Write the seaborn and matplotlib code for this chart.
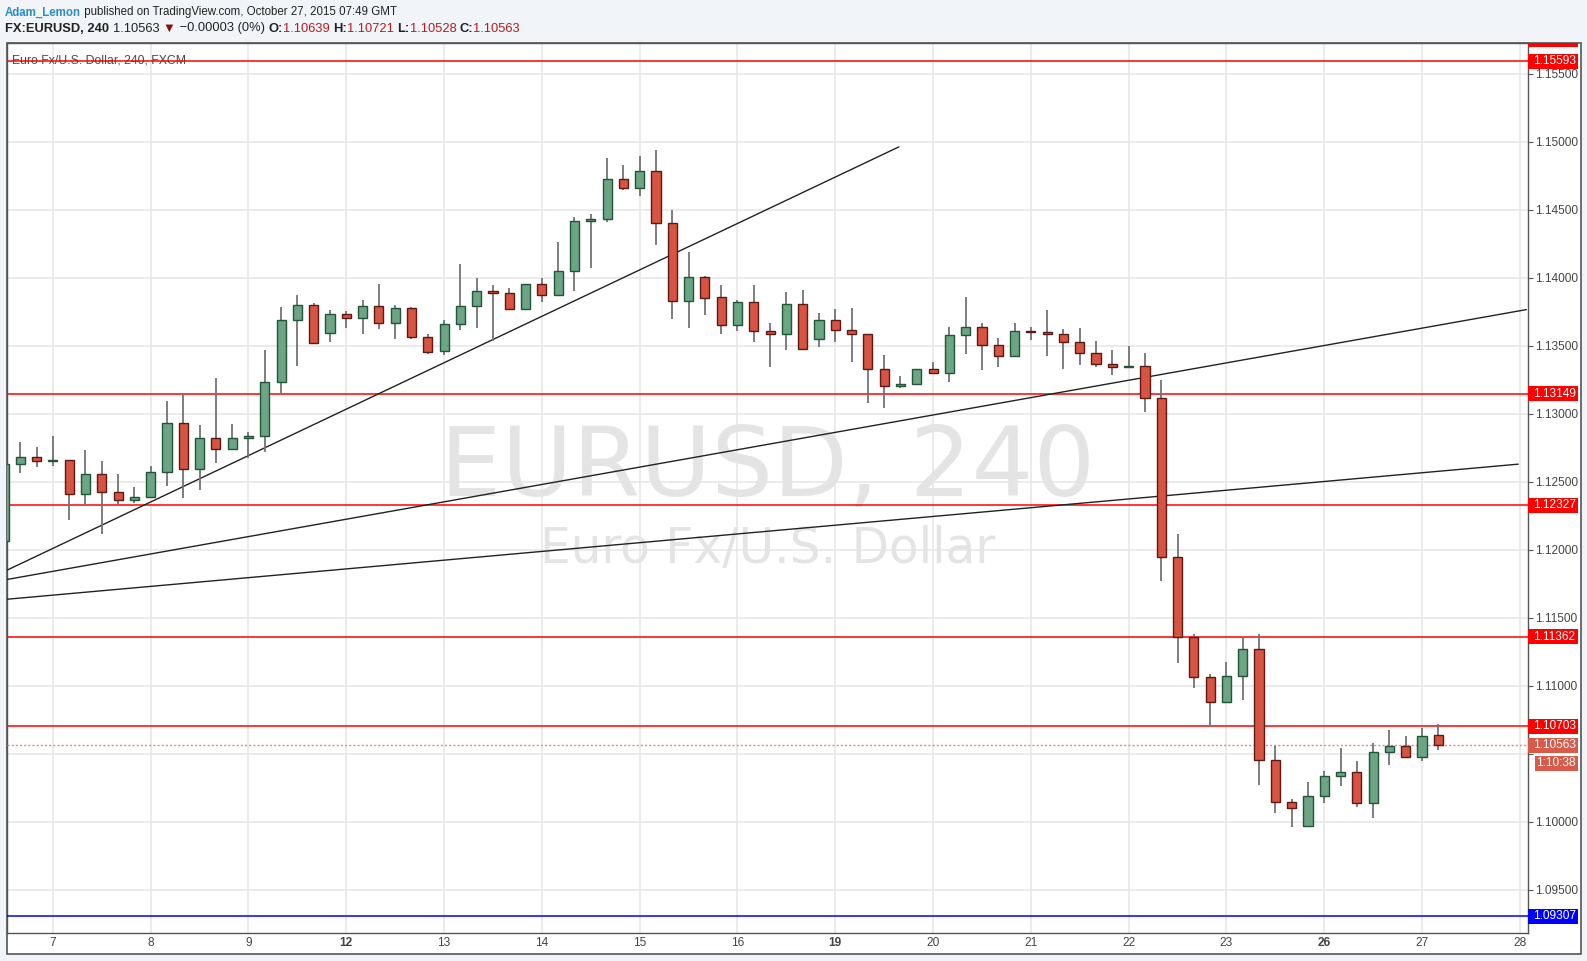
import matplotlib
matplotlib.use("Agg")
import numpy as np
import pandas as pd
import matplotlib.pyplot as plt
import matplotlib.transforms as mtransforms
from matplotlib.patches import Rectangle
import seaborn as sns

# ==========================================
# 1. Data
# ==========================================
opens = [1.12062, 1.12628, 1.12679, 1.12650, 1.12657, 1.12414, 1.12554, 1.12429, 1.12370, 1.12385,
         1.12569, 1.12929, 1.12598, 1.12819, 1.12745, 1.12819, 1.12834, 1.13231, 1.13687, 1.13797,
         1.13591, 1.13731, 1.13701, 1.13790, 1.13664, 1.13775, 1.13562, 1.13461, 1.13657, 1.13790,
         1.13900, 1.13885, 1.13767, 1.13951, 1.13870, 1.14047, 1.14415, 1.14429, 1.14723, 1.14657,
         1.14782, 1.14400, 1.13826, 1.14003, 1.13856, 1.13650, 1.13819, 1.13606, 1.13584, 1.13804,
         1.13547, 1.13687, 1.13613, 1.13584, 1.13326, 1.13201, 1.13216, 1.13326, 1.13297, 1.13576,
         1.13635, 1.13503, 1.13426, 1.13606, 1.13598, 1.13584, 1.13525, 1.13444, 1.13363, 1.13341,
         1.13348, 1.13113, 1.11951, 1.11356, 1.11062, 1.10885, 1.11076, 1.11275, 1.10459, 1.10150,
         1.09973, 1.10194, 1.10341, 1.10370, 1.10142, 1.10517, 1.10562, 1.10481, 1.10639]
highs = [1.12659, 1.12792, 1.12755, 1.12836, 1.12657, 1.12733, 1.12652, 1.12554, 1.12461, 1.12613,
         1.13093, 1.13150, 1.12917, 1.13262, 1.12924, 1.12863, 1.13468, 1.13782, 1.13873, 1.13814,
         1.13762, 1.13755, 1.13836, 1.13953, 1.13799, 1.13784, 1.13586, 1.13689, 1.14101, 1.13998,
         1.13946, 1.13924, 1.13951, 1.13998, 1.14262, 1.14444, 1.14466, 1.14880, 1.14828, 1.14895,
         1.14939, 1.14498, 1.14187, 1.14012, 1.13946, 1.13834, 1.13946, 1.13664, 1.13892, 1.13907,
         1.13738, 1.13767, 1.13775, 1.13584, 1.13429, 1.13275, 1.13326, 1.13378, 1.13635, 1.13856,
         1.13664, 1.13554, 1.13667, 1.13635, 1.13762, 1.13620, 1.13628, 1.13532, 1.13466, 1.13495,
         1.13444, 1.13245, 1.12115, 1.11378, 1.11084, 1.11179, 1.11360, 1.11378, 1.10562, 1.10172,
         1.10297, 1.10378, 1.10547, 1.10451, 1.10584, 1.10679, 1.10635, 1.10687, 1.10721]
lows = [1.12034, 1.12566, 1.12610, 1.12617, 1.12220, 1.12319, 1.12118, 1.12338, 1.12345, 1.12385,
        1.12470, 1.12382, 1.12441, 1.12635, 1.12745, 1.12672, 1.12723, 1.13150, 1.13353, 1.13522,
        1.13529, 1.13632, 1.13588, 1.13625, 1.13551, 1.13551, 1.13439, 1.13435, 1.13617, 1.13632,
        1.13537, 1.13767, 1.13767, 1.13823, 1.13870, 1.13904, 1.14073, 1.14412, 1.14645, 1.14603,
        1.14242, 1.13698, 1.13632, 1.13728, 1.13588, 1.13610, 1.13529, 1.13345, 1.13470, 1.13466,
        1.13492, 1.13529, 1.13382, 1.13081, 1.13044, 1.13187, 1.13216, 1.13290, 1.13231, 1.13437,
        1.13319, 1.13345, 1.13419, 1.13544, 1.13426, 1.13331, 1.13360, 1.13345, 1.13287, 1.13341,
        1.13010, 1.11772, 1.11169, 1.10985, 1.10701, 1.10885, 1.10897, 1.10272, 1.10066, 1.09963,
        1.09973, 1.10140, 1.10267, 1.10110, 1.10029, 1.10419, 1.10481, 1.10448, 1.10528]
closes = [1.12628, 1.12679, 1.12650, 1.12657, 1.12414, 1.12554, 1.12429, 1.12370, 1.12385, 1.12569,
          1.12929, 1.12598, 1.12819, 1.12745, 1.12819, 1.12834, 1.13231, 1.13687, 1.13797, 1.13522,
          1.13731, 1.13701, 1.13790, 1.13664, 1.13775, 1.13562, 1.13457, 1.13657, 1.13790, 1.13900,
          1.13885, 1.13767, 1.13951, 1.13870, 1.14047, 1.14415, 1.14429, 1.14723, 1.14657, 1.14782,
          1.14400, 1.13826, 1.14003, 1.13853, 1.13650, 1.13819, 1.13606, 1.13584, 1.13804, 1.13473,
          1.13687, 1.13613, 1.13584, 1.13326, 1.13201, 1.13216, 1.13326, 1.13297, 1.13576, 1.13635,
          1.13503, 1.13426, 1.13606, 1.13598, 1.13584, 1.13525, 1.13444, 1.13363, 1.13341, 1.13348,
          1.13113, 1.11951, 1.11356, 1.11062, 1.10885, 1.11076, 1.11275, 1.10459, 1.10150, 1.10106,
          1.10194, 1.10341, 1.10370, 1.10142, 1.10517, 1.10562, 1.10481, 1.10635, 1.10563]

day_labels = ['7', '8', '9', '12', '13', '14', '15', '16', '19', '20', '21', '22', '23', '26', '27', '28']
week_starts = ['12', '19', '26']
first_day_bar = 3          # bar index of the first labelled day (Oct 7 00:00)
bars_per_day = 6

price_ticks = [1.095, 1.100, 1.105, 1.110, 1.115, 1.120, 1.125, 1.130, 1.135, 1.140, 1.145, 1.150, 1.155]

red_levels = [1.15593, 1.13149, 1.12327, 1.11362, 1.10703]
blue_level = 1.09307
hidden_level = 1.15753     # line above the view, only its label peeks out
last_price = 1.10563
countdown = "1:10:38"

# trendlines: (start bar, start price, end bar, end price)
trend_x0 = [0.17, 0.17, 0.17]
trend_y0 = [1.11850, 1.11782, 1.11637]
trend_x1 = [54.9, 93.4, 92.9]
trend_y1 = [1.14962, 1.13766, 1.12630]

# ==========================================
# 2. Style
# ==========================================
UP_FILL, UP_EDGE = '#6ba583', '#225437'
DN_FILL, DN_EDGE = '#d75442', '#5b1a13'
WICK = '#737375'
GRID = '#e6e6e6'
FRAME = '#555555'
BG = '#f1f4f8'
AXFONT = ['Liberation Sans', 'DejaVu Sans']

sns.set_theme(style='white')
plt.rcParams['font.family'] = AXFONT

W, H = 1587, 961
fig = plt.figure(figsize=(W / 100, H / 100), dpi=100)
fig.patch.set_facecolor(BG)

def fig_box(x0, y0, x1, y1):
    # pixel box measured from the top-left -> figure fractions
    return [x0 / W, 1 - y1 / H, (x1 - x0) / W, (y1 - y0) / H]

# outer white chart frame
fl, ft, fr, fb = 6.7, 42.7, 1580.7, 953.5
fig.patches.append(Rectangle((fl / W, 1 - fb / H), (fr - fl) / W, (fb - ft) / H,
                             transform=fig.transFigure, facecolor='white',
                             edgecolor=FRAME, linewidth=1.2, zorder=-1))

pr = 1528
pb = 933.3
ax = fig.add_axes(fig_box(fl, ft, pr, pb))
ax.set_facecolor('white')

df = pd.DataFrame({'open': opens, 'high': highs, 'low': lows, 'close': closes})
df['bar'] = np.arange(len(df))
df['up'] = df['close'] >= df['open']
df['bottom'] = df[['open', 'close']].min(axis=1)
df['body'] = (df['close'] - df['open']).abs().clip(lower=0.00001)

# grid
day_bars = [first_day_bar + k * bars_per_day for k in range(len(day_labels))]
for b in day_bars:
    ax.axvline(b, color=GRID, lw=1.1, zorder=0)
for p in price_ticks:
    ax.axhline(p, color=GRID, lw=1.1, zorder=0)

# horizontal levels
for p in red_levels:
    ax.axhline(p, color='#ff0000', lw=1.1, zorder=3)
ax.axhline(blue_level, color='#0000ff', lw=1.1, zorder=3)
ax.axhline(last_price, color='#e08a7e', lw=1.0, ls=(0, (1.5, 1.5)), zorder=3)

# trendlines
for x0, y0, x1, y1 in zip(trend_x0, trend_y0, trend_x1, trend_y1):
    sns.lineplot(x=[x0, x1], y=[y0, y1], ax=ax, color='#222222', lw=1.0, zorder=4)

# candles
ax.vlines(df['bar'], df['low'], df['high'], color=WICK, lw=1.3, zorder=5)
for up, fill, edge in [(True, UP_FILL, UP_EDGE), (False, DN_FILL, DN_EDGE)]:
    sub = df[df['up'] == up]
    ax.bar(sub['bar'], sub['body'], bottom=sub['bottom'], width=0.56,
           color=fill, edgecolor=edge, linewidth=1.0, zorder=6)

ax.set_xlim(0.166, 93.5)
ax.set_ylim(1.091816, 1.157279)
ax.set_xlabel('')
ax.set_ylabel('')

# price axis on the right; labels hidden where a price tag sits on top of them
tag_prices = red_levels + [blue_level, last_price]
ax.yaxis.tick_right()
ax.set_yticks(price_ticks)
ax.set_yticklabels([f'{p:.5f}' for p in price_ticks])
ax.tick_params(axis='y', right=True, length=3.5, width=0.8, color=FRAME, pad=1.5,
               labelsize=8.6, labelcolor='#444444')
for p, lbl in zip(price_ticks, ax.get_yticklabels()):
    if min(abs(p - t) for t in tag_prices) < 0.00075:
        lbl.set_visible(False)
ax.set_xticks(day_bars)
ax.set_xticklabels(day_labels)
ax.tick_params(axis='x', bottom=False, length=0, pad=3, labelsize=8.6, labelcolor='#444444')
for lbl in ax.get_xticklabels():
    if lbl.get_text() in week_starts:
        lbl.set_fontweight('bold')
for s in ax.spines.values():
    s.set_color(FRAME)
    s.set_linewidth(1.0)
ax.grid(False)

# watermark
ax.text(0.5, 0.4905, 'EURUSD, 240', transform=ax.transAxes, ha='center', va='baseline',
        fontsize=70, color='#e4e4e4', family='DejaVu Sans', zorder=1)
ax.text(0.5, 0.4155, 'Euro Fx/U.S. Dollar', transform=ax.transAxes, ha='center', va='baseline',
        fontsize=35, color='#e4e4e4', family='DejaVu Sans', zorder=1)

ax.text(0.0035, 1 - (60.5 - ft) / (pb - ft), 'Euro Fx/U.S. Dollar, 240, FXCM', transform=ax.transAxes,
        ha='left', va='center', fontsize=8.8, color='#4a4a4a', zorder=2)

# price label panel
lab = fig.add_axes(fig_box(pr, ft, fr, pb), sharey=ax)
lab.set_zorder(ax.get_zorder() + 1)
lab.patch.set_visible(False)
lab.set_xlim(0, 1)
lab.axis('off')
box_h = 15 / 13600

def price_tag(price, bg, text, x0=0.0, x1=0.94):
    lab.add_patch(Rectangle((x0, price - box_h / 2), x1 - x0, box_h, facecolor=bg,
                            edgecolor='none', clip_on=True))
    lab.text(x0 + 0.09 if x0 == 0 else x0 + 0.02, price, text, ha='left', va='center',
             fontsize=8.6, color='white', clip_on=True)

price_tag(hidden_level, '#ff0000', f'{hidden_level:.5f}')
for p in red_levels:
    price_tag(p, '#ff0000', f'{p:.5f}')
price_tag(blue_level, '#0000ff', f'{blue_level:.5f}')
price_tag(last_price, '#d9594a', f'{last_price:.5f}')
price_tag(last_price - 17.7 / 13600, '#d9594a', countdown, x0=0.135)

# ==========================================
# 3. Header
# ==========================================
renderer = fig.canvas.get_renderer()

def text_run(x, y_top, parts, size):
    for s, color, weight in parts:
        t = fig.text(x, H - y_top, s, transform=mtransforms.IdentityTransform(),
                     fontsize=size, color=color, fontweight=weight, va='center', ha='left',
                     family=['Liberation Sans', 'DejaVu Sans'])
        x += t.get_window_extent(renderer).width

RED = '#b81c1c'
DARK = '#222222'
text_run(5, 12.5, [('Adam_Lemon', '#2a8ec2', 'bold'),
                   (' published on TradingView.com, October 27, 2015 07:49 GMT', DARK, 'normal')], 8.3)
text_run(5, 28.5, [('FX:EURUSD, 240 ', DARK, 'bold'), ('1.10563 ', DARK, 'normal'),
                   ('\u25bc', '#8b0a0a', 'normal'), (' \u22120.00003 (0%) ', DARK, 'normal'),
                   ('O:', DARK, 'bold'), ('1.10639 ', RED, 'normal'),
                   ('H:', DARK, 'bold'), ('1.10721 ', RED, 'normal'),
                   ('L:', DARK, 'bold'), ('1.10528 ', RED, 'normal'),
                   ('C:', DARK, 'bold'), ('1.10563', RED, 'normal')], 9.3)

fig.savefig('out.png', dpi=100, facecolor=fig.get_facecolor())
